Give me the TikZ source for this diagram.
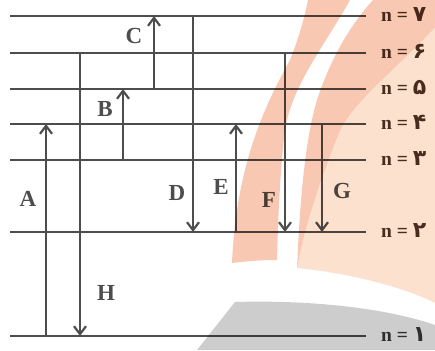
\documentclass[tikz,border=0pt]{standalone}
\usepackage{fontspec}
\setmainfont{Liberation Serif}
\newfontfamily\farsi[Script=Arabic]{DejaVu Sans}
\usetikzlibrary{arrows.meta}
\definecolor{Ink}{HTML}{4D4D4D}
\definecolor{Umber}{HTML}{4A3226}
\definecolor{Coal}{HTML}{3A3A3A}
\definecolor{Salmon}{HTML}{F8C8B2}
\definecolor{Peach}{HTML}{FCE1CF}
\definecolor{Smoke}{HTML}{CDCDCD}

\begin{document}
\begin{tikzpicture}[x=1pt, y=-1pt,
  level/.style={draw=Ink, line width=2.4pt},
  trans/.style={draw=Ink, line width=2.2pt, -{Straight Barb[length=8pt,width=12pt]}},
  tag/.style={text=Ink, font=\bfseries\fontsize{23}{26}\selectfont, inner sep=0pt},
  lvl/.style={font=\bfseries\fontsize{19.5}{22}\selectfont, inner sep=0pt, anchor=base west}
]
  \useasboundingbox (0,0) rectangle (435,350);

  % energy levels
  \foreach \n/\y/\d/\c in {1/336/۱/Coal, 2/232/۲/Umber, 3/160/۳/Umber, 4/124/۴/Umber,
                           5/89/۵/Umber, 6/53/۶/Umber, 7/16/۷/Umber} {
    \coordinate (w\n) at (10,\y);
    \coordinate (e\n) at (366,\y);
    \draw[level] (w\n) -- (e\n);
    \node[lvl, text=\c] (t\n) at ([shift={(15,5.5)}]e\n)
      {n = {\farsi\fontsize{22}{24}\selectfont\d}};
  }

  % transitions
  \foreach \x/\from/\to in {46/1/4, 80/6/1, 123/3/5, 154/5/7, 193/7/2, 236/2/4, 285/6/2, 322/4/2}
    \draw[trans] (\x,0 |- w\from) -- (\x,0 |- w\to);

  \node[tag] (A) at (28,199) {A};
  \node[tag] (B) at (105,109) {B};
  \node[tag] (C) at (134,36) {C};
  \node[tag] (D) at (177,193) {D};
  \node[tag] (E) at (221,187) {E};
  \node[tag] (F) at (269,200) {F};
  \node[tag] (G) at (342,191) {G};
  \node[tag] (H) at (106,293) {H};

  % watermark
  \begin{scope}[blend mode=multiply]
    \fill[Peach] (435,27) .. controls (395,70) and (355,100) .. (340,130)
      .. controls (328,160) and (305,220) .. (297,268)
      .. controls (340,272) and (400,285) .. (435,303) -- cycle;
    \fill[Salmon] (297,268) .. controls (300,200) and (305,140) .. (317,100)
      .. controls (330,60) and (350,25) .. (373,0) -- (435,0) -- (435,27)
      .. controls (395,70) and (355,100) .. (340,130)
      .. controls (328,160) and (305,220) .. (297,268) -- cycle;
    \fill[Salmon] (232,263) .. controls (236,170) and (262,110) .. (290,60)
      .. controls (298,40) and (304,20) .. (308,0) -- (350,0)
      .. controls (325,45) and (292,85) .. (285,130)
      .. controls (280,170) and (278,220) .. (277,260)
      .. controls (262,260) and (248,261) .. (232,263) -- cycle;
    \fill[Smoke] (197,350) -- (235,302) .. controls (300,300) and (380,306) .. (435,325)
      -- (435,350) -- cycle;
  \end{scope}
\end{tikzpicture}
\end{document}
